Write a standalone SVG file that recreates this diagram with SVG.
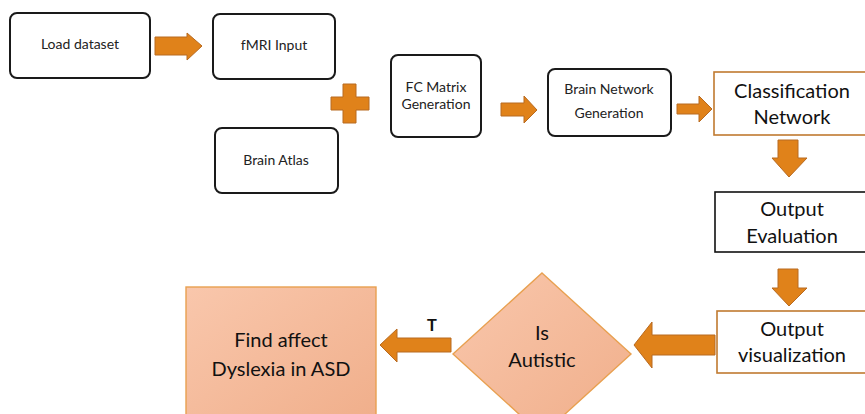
<svg xmlns="http://www.w3.org/2000/svg" width="865" height="414" viewBox="0 0 865 414">
<defs>
<linearGradient id="peach" x1="0" y1="0" x2="1" y2="1">
<stop offset="0" stop-color="#f9c7ac"/>
<stop offset="1" stop-color="#f0ae8a"/>
</linearGradient>
<style>
.rb{fill:#fff;stroke:#1a1a1a;stroke-width:2}
.ob{fill:#fff;stroke:#c07a30;stroke-width:1.6}
.kb{fill:#fff;stroke:#111;stroke-width:1.6}
.pk{fill:url(#peach);stroke:#e8a050;stroke-width:1.4}
.ar{fill:#e0821a;stroke:#b86a20;stroke-width:1}
.s{font-family:Lato,"Open Sans",sans-serif;font-size:14px;fill:#222;text-anchor:middle}
.l{font-family:Lato,"Open Sans",sans-serif;font-size:20px;fill:#111;text-anchor:middle}
.t{font-family:"Liberation Sans",Arial,sans-serif;font-size:16px;font-weight:bold;fill:#111;text-anchor:middle}
</style>
</defs>
<rect width="865" height="414" fill="#fff"/>
<g id="load"><rect class="rb" x="10" y="13" width="140" height="65" rx="7"/><text class="s" x="80" y="49">Load dataset</text></g>
<g id="fmri"><rect class="rb" x="213" y="14" width="122" height="65" rx="7"/><text class="s" x="274" y="50">fMRI Input</text></g>
<g id="atlas"><rect class="rb" x="215" y="128" width="123" height="65" rx="7"/><text class="s" x="276" y="165">Brain Atlas</text></g>
<g id="fc"><rect class="rb" x="391" y="55" width="90" height="82" rx="7"/><text class="s" x="436" y="92">FC Matrix</text><text class="s" x="436" y="109">Generation</text></g>
<g id="bng"><rect class="rb" x="548" y="69" width="123" height="67" rx="7"/><text class="s" x="609" y="94">Brain Network</text><text class="s" x="609" y="118">Generation</text></g>
<g id="cls"><rect class="ob" x="714" y="72" width="153" height="63"/><text class="l" x="792" y="98">Classification</text><text class="l" x="792" y="124">Network</text></g>
<g id="eval"><rect class="kb" x="715" y="192" width="152" height="60"/><text class="l" x="792" y="216">Output</text><text class="l" x="792" y="243">Evaluation</text></g>
<g id="vis"><rect class="ob" x="717" y="311" width="150" height="62"/><text class="l" x="792" y="336">Output</text><text class="l" x="792" y="362">visualization</text></g>
<g id="autistic"><polygon class="pk" points="542,273 631,354 542,435 453,354"/><text class="l" x="542" y="340">Is</text><text class="l" x="542" y="367">Autistic</text></g>
<g id="find"><rect class="pk" x="186" y="287" width="190" height="140"/><text class="l" x="281" y="347">Find affect</text><text class="l" x="281" y="376">Dyslexia in ASD</text></g>
<g id="connectors">
<polygon class="ar" points="155,37 187,37 187,33 202,46 187,60 187,55 155,55"/>
<polygon class="ar" points="343,84 356,84 356,97 369,97 369,110 356,110 356,123 343,123 343,110 331,110 331,97 343,97"/>
<polygon class="ar" points="501,103 524,103 524,96 537,110 524,123 524,116 501,116"/>
<polygon class="ar" points="677,104 699,104 699,96 712,109 699,122 699,114 677,114"/>
<polygon class="ar" points="778,140 798,140 798,158 807,158 789,177 772,158 778,158"/>
<polygon class="ar" points="778,269 798,269 798,288 807,288 789,306 772,288 778,288"/>
<polygon class="ar" points="715,335 652,335 652,322 634,345 652,368 652,355 715,355"/>
<polygon class="ar" points="451,338 397,338 397,329 380,345 397,362 397,352 451,352"/>
<text class="t" x="432" y="331">T</text>
</g>
</svg>
